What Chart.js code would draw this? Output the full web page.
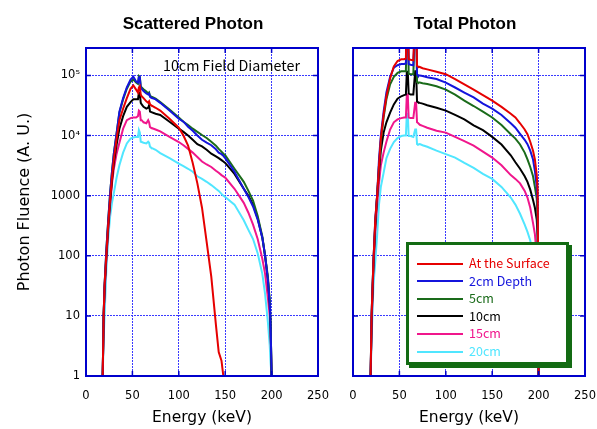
<!DOCTYPE html>
<html><head><meta charset="utf-8">
<script src="https://cdn.jsdelivr.net/npm/chart.js@4.4.0/dist/chart.umd.min.js"></script>
<style>
html,body{margin:0;padding:0;background:#fff;}
#wrap{position:relative;width:597px;height:429px;overflow:hidden;font-family:"Noto Sans CJK JP","DejaVu Sans",sans-serif;}
canvas{position:absolute;top:0;}
#c1{left:0;}
#c2{left:335px;}
.ttl{position:absolute;top:12px;width:220px;text-align:center;font-family:"Liberation Sans",Arial,sans-serif;font-weight:bold;font-size:17px;line-height:24px;color:#000;}
#note{position:absolute;left:163px;top:55px;font-size:14.3px;line-height:20px;color:#000;}
#ytitle{position:absolute;left:24px;top:202px;width:260px;margin-left:-130px;margin-top:-11px;height:22px;line-height:22px;text-align:center;transform:rotate(-90deg);font-family:"DejaVu Sans",sans-serif;font-size:16px;color:#000;white-space:nowrap;}
#legend{position:absolute;left:406px;top:242px;width:157px;height:117px;background:#fff;border:3px solid #136b13;box-shadow:3px 3px 0 #136b13;padding:0;}
#legend .row{position:absolute;left:8px;height:18px;font-size:12.5px;line-height:18px;white-space:nowrap;}
#legend .ln{display:inline-block;width:46px;height:2px;vertical-align:middle;margin-right:6px;position:relative;top:-1px;}
</style>
</head>
<body>
<div id="wrap">
<canvas id="c1" width="335" height="429"></canvas>
<canvas id="c2" width="262" height="429"></canvas>
<div class="ttl" style="left:83px">Scattered Photon</div>
<div class="ttl" style="left:355px">Total Photon</div>
<div id="note">10cm Field Diameter</div>
<div id="ytitle">Photon Fluence (A. U.)</div>
<div id="legend"></div>
</div>
<script>
// ---- categories / tick labels ----
const seriesNames = ['At the Surface','2cm Depth','5cm','10cm','15cm','20cm'];
const seriesColors = ['#e60000','#1414dc','#1a6b1a','#000000','#f0168c','#50e6ff'];
const xTicks = [0,50,100,150,200,250];
const yTickValues = [1,10,100,1000,10000,100000];
const yTickLabels = ['1','10','100','1000','10\u2074','10\u2075'];

// ---- Scattered photon (left panel) ----
const energyScat = [18,19,20,22,24,26,28,30,33,36,40,44,48,51,54,56,57,58,59,60,62,65,67,68,69,70,75,80,90,100,105,110,115,120,125,130,135,140,143,146,148,150,160,170,175,180,185,190,193,196,198,199,200];
const scatSurface = [1,10,32,110,350,890,2000,4000,8900,18000,28000,42000,60000,68000,58000,52000,63000,66000,48000,45000,42000,37000,35000,37000,33000,32000,29000,26000,19000,13500,10000,6800,3500,1600,630,170,45,7.1,2.5,1.8,1,null,null,null,null,null,null,null,null,null,null,null,null];
const scat2cm = [1,10,32,130,400,1100,2500,5000,11000,25000,42000,63000,85000,95000,79000,76000,93000,93000,63000,60000,55000,50000,48000,50000,44000,43000,40000,35000,26000,19000,17000,14000,12000,10000,8500,7600,6900,5900,5200,4900,4600,4200,2500,1300,950,660,400,200,100,40,16,6.3,1];
const scat5cm = [1,10,32,130,400,1100,2500,5000,11000,24000,40000,60000,79000,85000,76000,72000,98000,95000,66000,63000,59000,54000,50000,52000,46000,45000,41000,36000,27000,20000,17000,15000,13000,11500,10200,9100,7900,6800,6000,5400,5000,4700,2800,1700,1200,830,460,210,100,45,18,6.3,1];
const scat10cm = [1,10,28,100,320,790,1800,3500,7100,13000,21000,30000,36000,40000,40000,40000,52000,50000,35000,33000,30000,28000,29000,32000,25000,25000,23000,22000,17000,13000,11500,10000,8500,7200,6600,5800,5000,4500,4200,3900,3700,3500,2300,1300,1000,710,420,200,100,40,16,6.3,1];
const scat15cm = [1,7.9,25,89,280,710,1600,2800,5000,7600,13000,18000,19500,20000,20000,21000,26000,25000,18000,18000,16600,16000,18000,16600,13800,13500,12600,11700,9500,7800,6900,6000,5200,4400,3700,3300,3000,2600,2400,2200,2100,2000,1300,760,520,330,190,89,50,20,10,4,1];
const scat20cm = [1,4,10,63,200,450,760,1100,2000,3200,5200,7400,8900,9300,9500,9500,12300,11200,7900,7800,7600,7400,7900,7600,6500,6300,5800,5100,4200,3400,3100,2800,2500,2100,1900,1700,1500,1300,1200,1070,1000,950,710,390,270,190,110,50,23,7.9,3.2,1.6,1];

// ---- Total photon (right panel) ----
const energyTot = [19,20,22,24,26,28,30,33,36,40,44,48,52,55,57,58,59,60,62,65,67,68,69,70,72,75,80,90,100,110,120,130,140,150,160,170,175,180,185,188,191,194,196,198,199,200];
const totSurface = [1,10,79,400,1000,3200,8900,22000,45000,89000,141000,174000,186000,186000,191000,1e6,1e6,186000,182000,178000,1e6,1e6,145000,141000,138000,132000,126000,115000,105000,87000,71000,58000,47000,38000,30000,23000,20000,16000,12600,10500,7900,5600,4000,2200,1260,1];
const tot2cm = [1,10,79,400,1000,4000,10000,25000,52000,95000,135000,148000,155000,155000,158000,1e6,1e6,155000,151000,148000,1e6,1e6,105000,100000,100000,98000,93000,87000,76000,63000,52000,43000,34000,28000,22000,16000,13500,10700,8500,7200,5600,4000,2600,1400,790,1];
const tot5cm = [1,10,79,350,1000,3200,7900,20000,40000,71000,95000,110000,117000,117000,117000,1e6,1e6,107000,105000,105000,1e6,1e6,78000,76000,76000,74000,72000,66000,58000,48000,38000,31000,25000,20000,15000,10500,8900,7100,5200,4000,3000,2100,1400,890,400,1];
const tot10cm = [1,7.9,71,320,1000,2500,5600,11200,16600,24000,33000,41000,45000,47000,48000,115000,115000,50000,48000,48000,117000,117000,37000,36000,35000,34000,32000,29000,26000,22000,18600,14800,12300,9500,7100,4700,3600,2800,2100,1700,1260,850,630,400,200,1];
const tot15cm = [1,6.3,63,250,710,1600,3200,5200,7900,12600,16600,18600,19500,20000,20000,48000,48000,20000,19500,19500,35000,35000,16600,16200,15100,14500,13500,12000,11200,9500,8100,6800,5400,4300,3200,2200,1900,1600,1200,930,630,350,230,100,32,1];
const tot20cm = [1,4,32,79,220,710,1400,2400,4200,6000,7800,9100,9800,10000,10000,23000,23000,9800,9800,9500,12600,12600,7200,7100,7200,6900,6500,5600,4900,4300,3500,2900,2300,1900,1400,930,710,500,330,250,180,110,63,25,10,1];

const FRAME = '#0000cc';
const GRID = '#3a3aff';
const TICKFONT = '"DejaVu Sans", sans-serif';

const framePlugin = {
  id: 'frame',
  afterDatasetsDraw(chart) {
    const {ctx, chartArea: a, scales: {x, y}} = chart;
    ctx.save();
    ctx.strokeStyle = FRAME;
    ctx.lineWidth = 2;
    ctx.strokeRect(a.left, a.top, a.right - a.left, a.bottom - a.top);
    ctx.lineWidth = 1.5;
    ctx.beginPath();
    x.ticks.forEach(t => {
      const p = x.getPixelForValue(t.value);
      ctx.moveTo(p, a.bottom); ctx.lineTo(p, a.bottom - 5);
      ctx.moveTo(p, a.top); ctx.lineTo(p, a.top + 5);
    });
    y.ticks.forEach(t => {
      const p = y.getPixelForValue(t.value);
      ctx.moveTo(a.left, p); ctx.lineTo(a.left + 5, p);
      ctx.moveTo(a.right, p); ctx.lineTo(a.right - 5, p);
    });
    ctx.stroke();
    ctx.restore();
  }
};

function makeChart(id, energies, seriesList, isLeft) {
  const datasets = seriesList.map((vals, i) => ({
    label: seriesNames[i],
    data: energies.map((e, j) => ({x: e, y: vals[j]})),
    borderColor: seriesColors[i],
    backgroundColor: seriesColors[i],
    borderWidth: 2,
    pointRadius: 0,
    fill: false,
    tension: 0,
    spanGaps: false
  }));
  return new Chart(document.getElementById(id), {
    type: 'line',
    data: {datasets},
    options: {
      responsive: false,
      animation: false,
      devicePixelRatio: 1,
      layout: {padding: {left: 0, right: isLeft ? 17 : 12, top: 48, bottom: 0}},
      plugins: {legend: {display: false}, tooltip: {enabled: false}, title: {display: false}},
      scales: {
        x: {
          type: 'linear', min: 0, max: 250,
          afterBuildTicks: s => { s.ticks = xTicks.map(v => ({value: v})); },
          ticks: {padding: 13, color: '#000', font: {family: TICKFONT, size: 11.5}, maxRotation: 0, autoSkip: false},
          grid: {color: GRID, lineWidth: 1, drawTicks: false},
          border: {display: false, dash: [2, 1]},
          title: {display: true, text: 'Energy (keV)', color: '#000', font: {family: TICKFONT, size: 15.5}, padding: {top: 0, bottom: 2}},
          afterFit: s => { s.height = 53; s.paddingLeft = 0; s.paddingRight = 0; }
        },
        y: {
          type: 'logarithmic', min: 1, max: 2.86e5,
          afterBuildTicks: s => { s.ticks = yTickValues.map(v => ({value: v})); },
          ticks: {display: isLeft, padding: 6, color: '#000', font: {family: TICKFONT, size: 11.5},
                  callback: v => yTickLabels[yTickValues.indexOf(v)]},
          grid: {color: GRID, lineWidth: 1, drawTicks: false},
          border: {display: false, dash: [2, 1]},
          title: {display: false},
          afterFit: s => { s.width = isLeft ? 86 : 18; s.paddingTop = 0; s.paddingBottom = 0; }
        }
      }
    },
    plugins: [framePlugin]
  });
}

makeChart('c1', energyScat, [scatSurface, scat2cm, scat5cm, scat10cm, scat15cm, scat20cm], true);
makeChart('c2', energyTot, [totSurface, tot2cm, tot5cm, tot10cm, tot15cm, tot20cm], false);

// legend built from the series names/colours
const leg = document.getElementById('legend');
seriesNames.forEach((n, i) => {
  const row = document.createElement('div');
  row.className = 'row';
  row.style.top = (9 + i * 17.6) + 'px';
  const ln = document.createElement('span');
  ln.className = 'ln';
  ln.style.background = seriesColors[i];
  const tx = document.createElement('span');
  tx.style.color = seriesColors[i];
  tx.textContent = n;
  row.appendChild(ln); row.appendChild(tx);
  leg.appendChild(row);
});
</script>
</body></html>
